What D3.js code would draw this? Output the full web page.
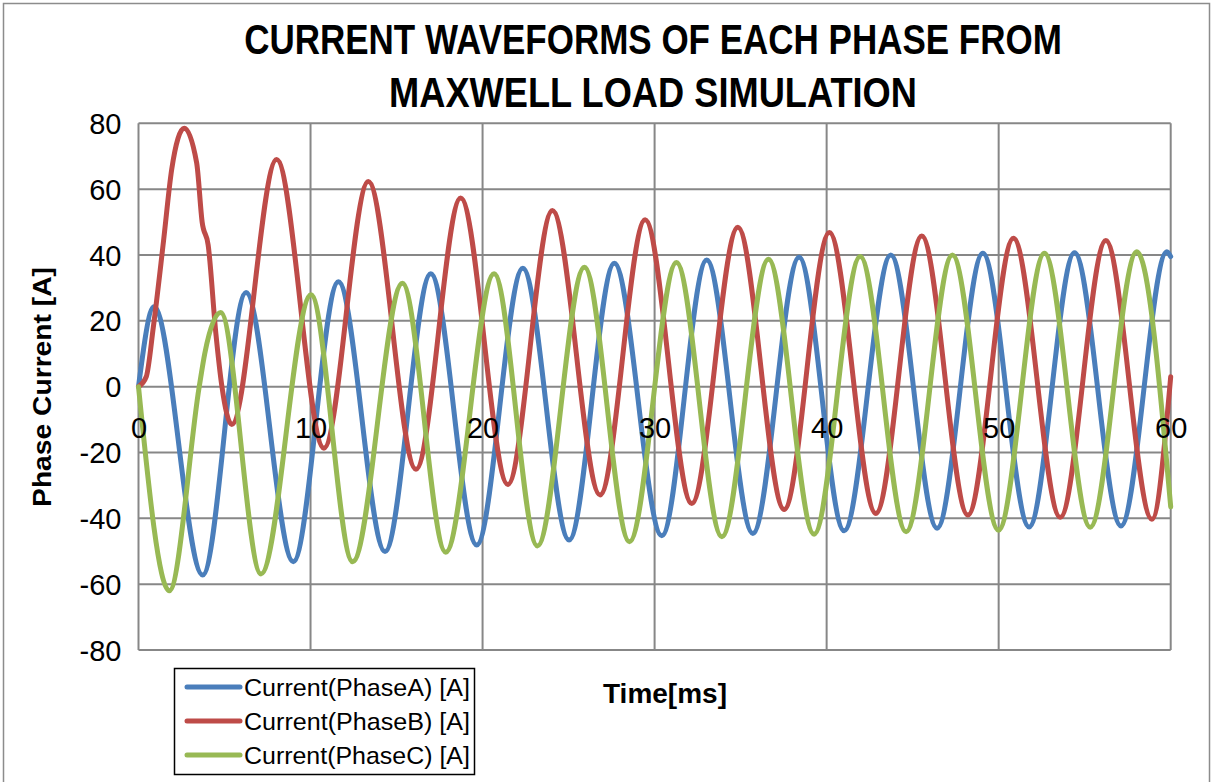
<!DOCTYPE html>
<html>
<head>
<meta charset="utf-8">
<script src="https://cdn.jsdelivr.net/npm/d3@7"></script>
<style>
  html, body { margin: 0; padding: 0; background: #ffffff; }
  svg { display: block; }
  text { font-family: "Liberation Sans", Arial, sans-serif; fill: #000; }
</style>
</head>
<body>
<svg id="chart" width="1214" height="782"></svg>
<script>
// Phase currents, sampled at peaks, troughs and shape changes (time in ms, current in A)
const timeA = [0, 0.9, 3.73, 6.25, 9.0, 11.62, 14.33, 16.99, 19.66, 22.34, 25.03, 27.66, 30.42,
  33.03, 35.71, 38.4, 41.02, 43.73, 46.42, 49.08, 51.77, 54.41, 57.11, 59.78, 60];
const currentA = [0, 24.3, -57.2, 28.6, -53.2, 31.9, -50.1, 34.3, -48.1, 36.0, -46.6, 37.5, -45.3,
  38.5, -44.6, 39.3, -43.8, 40.0, -43.0, 40.5, -42.6, 40.7, -42.3, 41.0, 39.5];

const timeB = [0, 0.45, 0.86, 1.45, 1.93, 2.66, 3.38, 3.7, 4.05, 4.5, 4.85, 5.42, 8.03, 10.78,
  13.36, 16.13, 18.73, 21.47, 24.06, 26.83, 29.45, 32.16, 34.84, 37.53, 40.16, 42.86, 45.53,
  48.21, 50.86, 53.58, 56.23, 58.91, 60];
const currentB = [0, 3, 18, 44, 66, 78.5, 68, 50, 43, 16, 0, -11.5, 69, -18.7,
  62.3, -25.1, 57.3, -29.7, 53.5, -32.9, 50.7, -35.5, 48.4, -37.3, 46.8, -38.5, 45.8,
  -39.0, 45.1, -39.7, 44.4, -40.3, 3];

const timeC = [0, 1.79, 3.53, 3.85, 4.78, 7.12, 10.03, 12.45, 15.34, 17.86, 20.67, 23.19, 25.92,
  28.54, 31.27, 33.91, 36.62, 39.27, 41.95, 44.62, 47.31, 49.99, 52.66, 55.32, 58.03, 60];
const currentC = [0, -62, 0, 10, 22.5, -56.9, 27.9, -53.2, 31.4, -50.3, 34.3, -48.4, 36.3,
  -47.1, 37.7, -45.6, 38.7, -44.8, 39.5, -44.1, 40.0, -43.6, 40.5, -42.7, 41.0, -36.5];

const seriesNames = ["Current(PhaseA) [A]", "Current(PhaseB) [A]", "Current(PhaseC) [A]"];
const seriesColors = ["#4a7ebb", "#be4b48", "#98b954"];
const xTicks = [0, 10, 20, 30, 40, 50, 60];
const yTicks = [-80, -60, -40, -20, 0, 20, 40, 60, 80];
const titleLines = ["CURRENT WAVEFORMS OF EACH PHASE FROM", "MAXWELL LOAD SIMULATION"];

const series = [
  { name: seriesNames[0], color: seriesColors[0], pts: timeA.map((t, i) => [t, currentA[i]]) },
  { name: seriesNames[1], color: seriesColors[1], pts: timeB.map((t, i) => [t, currentB[i]]) },
  { name: seriesNames[2], color: seriesColors[2], pts: timeC.map((t, i) => [t, currentC[i]]) }
];

const svg = d3.select("#chart");
const plot = { left: 138.5, right: 1170.7, top: 123.3, bottom: 650 };
const x = d3.scaleLinear().domain([0, 60]).range([plot.left, plot.right]);
const y = d3.scaleLinear().domain([-80, 80]).range([plot.bottom, plot.top]);
const gridColor = "#878787";
const plainNumber = d => String(d);   // ASCII hyphen for negatives

// chart area frame
svg.append("rect")
  .attr("x", 3.5).attr("y", 3.5).attr("width", 1206).attr("height", 800)
  .attr("fill", "#fff").attr("stroke", "#8c8c8c").attr("stroke-width", 1.5);

// horizontally condensed text: anchored at (cx, cy), squeezed to width w
function condensed(parent, str, cx, cy, w, size, weight, anchor, rotate) {
  const g = parent.append("g");
  const t = g.append("text")
    .attr("font-size", size).attr("font-weight", weight)
    .attr("text-anchor", anchor)
    .text(str);
  const natural = t.node().getComputedTextLength();
  const sx = w / natural;
  g.attr("transform", `translate(${cx},${cy})${rotate ? ` rotate(${rotate})` : ""} scale(${sx},1)`);
  return t;
}

// title
titleLines.forEach((line, i) => {
  condensed(svg, line, 653, i === 0 ? 54 : 107, i === 0 ? 818 : 528, 43, "bold", "middle");
});

// gridlines
const grid = svg.append("g");
grid.selectAll("line.h").data(yTicks).join("line")
  .attr("x1", plot.left).attr("x2", plot.right)
  .attr("y1", d => y(d)).attr("y2", d => y(d))
  .attr("stroke", gridColor).attr("stroke-width", 2);
grid.selectAll("line.v").data(xTicks).join("line")
  .attr("x1", d => x(d)).attr("x2", d => x(d))
  .attr("y1", plot.top).attr("y2", plot.bottom)
  .attr("stroke", gridColor).attr("stroke-width", 2);

// curves
const line = d3.line()
  .x(d => x(d[0])).y(d => y(d[1]))
  .curve(d3.curveMonotoneX);
svg.append("g").selectAll("path").data(series).join("path")
  .attr("d", d => line(d.pts))
  .attr("fill", "none")
  .attr("stroke", d => d.color)
  .attr("stroke-width", 5)
  .attr("stroke-linejoin", "round")
  .attr("stroke-linecap", "round");

// y axis labels
const yAxis = d3.axisLeft(y).tickValues(yTicks).tickSize(0).tickPadding(17).tickFormat(plainNumber);
const gy = svg.append("g").attr("transform", `translate(${plot.left},0)`).call(yAxis);
gy.select(".domain").remove();
gy.selectAll("text").attr("font-size", 29).attr("font-family", "Liberation Sans, Arial, sans-serif").attr("dy", "0.35em");

// x axis labels sit just below the zero line, over the curves
const xAxis = d3.axisBottom(x).tickValues(xTicks).tickSize(0).tickPadding(30).tickFormat(plainNumber);
const gx = svg.append("g").attr("transform", `translate(0,${y(0)})`).call(xAxis);
gx.select(".domain").remove();
gx.selectAll("text").attr("font-size", 29).attr("font-family", "Liberation Sans, Arial, sans-serif").attr("dy", "0.75em");

// axis titles
condensed(svg, "Phase Current [A]", 51, 387, 240, 26, "bold", "middle", -90);
condensed(svg, "Time[ms]", 665, 703, 124, 27, "bold", "middle");

// legend
const legend = svg.append("g");
legend.append("rect")
  .attr("x", 174.5).attr("y", 668.5).attr("width", 300).attr("height", 106)
  .attr("fill", "#fff").attr("stroke", "#000").attr("stroke-width", 1.5);
series.forEach((s, i) => {
  const cy = 687 + i * 34;
  legend.append("line")
    .attr("x1", 187).attr("x2", 240).attr("y1", cy).attr("y2", cy)
    .attr("stroke", s.color).attr("stroke-width", 5).attr("stroke-linecap", "round");
  condensed(legend, s.name, 244, cy + 8.5, 226, 24, "normal", "start");
});
</script>
</body>
</html>
